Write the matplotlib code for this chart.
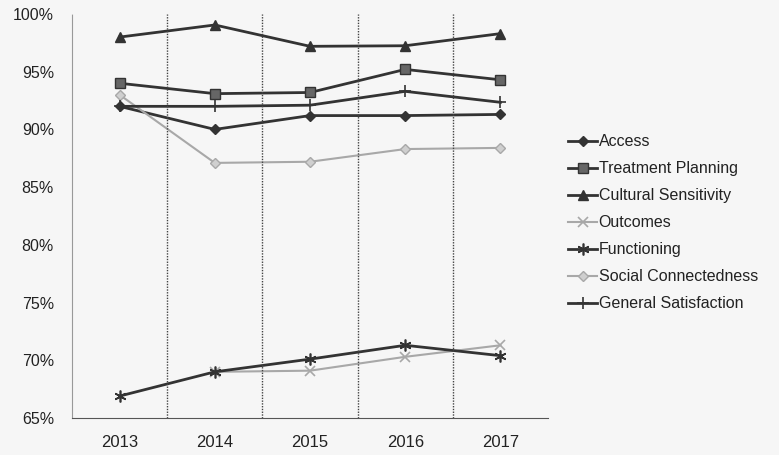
import matplotlib
matplotlib.use("Agg")
import matplotlib.pyplot as plt
import numpy as np

years = ["2013", "2014", "2015", "2016", "2017"]
access = [92.0, 90.0, 91.2, 91.2, 91.3]
treatment_planning = [94.0, 93.1, 93.2, 95.2, 94.3]
cultural_sensitivity = [98.0, 99.05, 97.2, 97.25, 98.3]
outcomes = [np.nan, 69.0, 69.1, 70.3, 71.3]
functioning = [66.9, 69.0, 70.1, 71.3, 70.4]
social_connectedness = [93.0, 87.1, 87.2, 88.3, 88.4]
general_satisfaction = [92.0, 92.0, 92.1, 93.3, 92.35]

plt.rcParams['font.family'] = ['Liberation Sans', 'DejaVu Sans']

dark = '#333333'
light = '#a8a8a8'
bg = '#f6f6f6'

fig = plt.figure(figsize=(7.79, 4.55), dpi=100, facecolor=bg)
ax = fig.add_axes([72/779, 1-418/455, 476/779, 404/455], facecolor=bg)

x = np.arange(len(years))
series = [
    ("Access", access, dict(color=dark, marker='D', ms=5, lw=2.0)),
    ("Treatment Planning", treatment_planning, dict(color=dark, marker='s', ms=6.5, lw=2.0, mfc='#666666')),
    ("Cultural Sensitivity", cultural_sensitivity, dict(color=dark, marker='^', ms=6.5, lw=2.0)),
    ("Outcomes", outcomes, dict(color=light, marker='x', ms=6.5, lw=1.5, mew=1.2)),
    ("Functioning", functioning, dict(color=dark, marker=(6, 2, 0), ms=8.5, lw=2.0, mew=1.2)),
    ("Social Connectedness", social_connectedness, dict(color=light, marker='D', ms=5, lw=1.5, mfc='#cfcfcf')),
    ("General Satisfaction", general_satisfaction, dict(color=dark, marker='+', ms=8, lw=2.0, mew=1.2)),
]
for name, vals, st in series:
    ax.plot(x, vals, label=name, **st)

ax.set_xlim(-0.5, 4.5)
ax.set_ylim(65, 100)
ax.set_yticks(np.arange(65, 101, 5))
ax.set_yticklabels([f"{v}%" for v in range(65, 101, 5)])
ax.set_xticks(x)
ax.set_xticklabels(years)
for b in [0.5, 1.5, 2.5, 3.5]:
    ax.axvline(b, color='#444444', lw=1.0, ls=(0, (1, 1)))
ax.tick_params(axis='both', length=0, labelsize=11.5, colors='#222222')
ax.tick_params(axis='y', pad=13)
ax.tick_params(axis='x', pad=12)
for t in ax.get_xticklabels():
    t.set_fontsize(12)
for s in ['top', 'right']:
    ax.spines[s].set_visible(False)
ax.spines['left'].set_color('#999999')
ax.spines['left'].set_linestyle((0, (1, 1)))
ax.spines['bottom'].set_color('#555555')
ax.spines['bottom'].set_linestyle((0, (1, 1)))

leg = fig.legend(loc='upper left', bbox_to_anchor=(562/779, 1-128/455), frameon=False,
                 fontsize=11.5, handlelength=1.8, handletextpad=0.1, labelspacing=0.75,
                 borderaxespad=0)
for t in leg.get_texts():
    t.set_color('#222222')

fig.savefig("out.png", dpi=100, facecolor=bg)
